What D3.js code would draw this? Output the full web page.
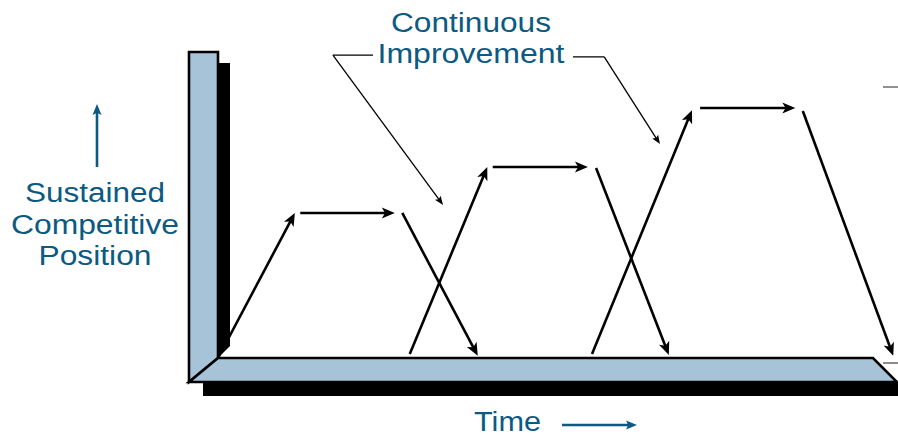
<!DOCTYPE html>
<html><head><meta charset="utf-8">
<script src="https://cdn.jsdelivr.net/npm/d3@7/dist/d3.min.js"></script>
<style>html,body{margin:0;padding:0;background:#fff;}svg{display:block;}</style>
</head><body>
<svg id="c" width="898" height="437"></svg>
<script>
// Data (time units 0-100, position units 0-100)
const rises   = [ {t1:0,   v1:0,   t2:11.3, v2:47.4},
                  {t1:28.2, v1:1.3, t2:39.6, v2:62.4},
                  {t1:55.0, v1:1.3, t2:69.7, v2:81.0} ];
const plateaus= [ {t1:12.1, t2:26.0, v:47.4},
                  {t1:40.4, t2:54.4, v:62.4},
                  {t1:70.9, t2:84.9, v:81.7} ];
const drops   = [ {t1:27.1, v1:47.4, t2:38.2, v2:0.7},
                  {t1:55.6, v1:62.1, t2:66.3, v2:1.0},
                  {t1:86.0, v1:80.7, t2:99.3, v2:0.7} ];
const leaders = [ [[22.8,99.0],[16.9,99.0],[33.1,50.0]],
                  [[52.2,98.4],[56.8,98.4],[65.0,69.9]] ];
const titleLines = ["Continuous","Improvement"];
const yLabelLines = ["Sustained","Competitive","Position"];
const xLabel = "Time";

const svg = d3.select("#c");
const x = d3.scaleLinear().domain([0,100]).range([218,898]);
const y = d3.scaleLinear().domain([0,100]).range([358,52]);

const blue = "#a7c3d8", ink = "#0b5a82";

// Frame: shadows
const x0 = x(0), y0 = y(0), yTop = y(100);
svg.append("rect").attr("x",203).attr("y",382).attr("width",898-203).attr("height",14).attr("fill","#000");
svg.append("polygon").attr("points",[[x0,yTop+11],[x0+12,yTop+11],[x0+12,y0-12],[x0,y0]].map(p=>p.join(",")).join(" ")).attr("fill","#000");
// wall
svg.append("polygon").attr("points",[[x0-29,yTop],[x0,yTop],[x0,y0],[x0-29,y0+24]].map(p=>p.join(",")).join(" "))
  .attr("fill",blue).attr("stroke","#000").attr("stroke-width",2.6).attr("stroke-linejoin","miter");
// floor
svg.append("polygon").attr("points",[[x0-29,y0+24],[x0,y0],[873,y0],[897,y0+24]].map(p=>p.join(",")).join(" "))
  .attr("fill",blue).attr("stroke","#000").attr("stroke-width",2.6).attr("stroke-linejoin","miter");

// arrow helper
function arrow(g, x1,y1,x2,y2, opt){
  const len=opt.len, hw=opt.hw;
  const dx=x2-x1, dy=y2-y1, L=Math.hypot(dx,dy), ux=dx/L, uy=dy/L;
  const bx=x2-ux*len, by=y2-uy*len;
  g.append("line").attr("x1",x1).attr("y1",y1).attr("x2",x2-ux*len*0.6).attr("y2",y2-uy*len*0.6)
    .attr("stroke",opt.color).attr("stroke-width",opt.w);
  const back = opt.notch||0;
  g.append("polygon").attr("points",[[x2,y2],[bx-uy*hw,by+ux*hw],[x2-ux*len*(1-back), y2-uy*len*(1-back)],[bx+uy*hw,by-ux*hw]].map(p=>p.join(",")).join(" "))
    .attr("fill",opt.color);
}
const g = svg.append("g");
const big = {len:13, hw:5.5, w:2.6, color:"#000", notch:0.25};
rises.forEach(d=>arrow(g,x(d.t1),y(d.v1),x(d.t2),y(d.v2),big));
plateaus.forEach(d=>arrow(g,x(d.t1),y(d.v),x(d.t2),y(d.v),big));
drops.forEach(d=>arrow(g,x(d.t1),y(d.v1),x(d.t2),y(d.v2),big));

// leaders
leaders.forEach(pts=>{
  const p = pts.map(q=>[x(q[0]),y(q[1])]);
  g.append("polyline").attr("points",p.slice(0,2).map(q=>q.join(",")).join(" ")).attr("fill","none").attr("stroke","#000").attr("stroke-width",1.3);
  arrow(g,p[1][0],p[1][1],p[2][0],p[2][1],{len:9,hw:3.5,w:1.3,color:"#000",notch:0.2});
});
// small cut-off marks at right edge
svg.append("line").attr("x1",883).attr("x2",898).attr("y1",87).attr("y2",87).attr("stroke","#555").attr("stroke-width",1.3);
svg.append("line").attr("x1",883).attr("x2",898).attr("y1",363).attr("y2",363).attr("stroke","#666").attr("stroke-width",1.5);

// texts
const font = "'Liberation Sans', Arial, sans-serif";
const tw = {"Continuous":160,"Improvement":187,"Sustained":140,"Competitive":168,"Position":113,"Time":67};
titleLines.forEach((s,i)=>{
  svg.append("text").attr("x",471-tw[s]/2).attr("y",32+i*31).attr("font-family",font).attr("font-size",27)
    .attr("fill",ink).attr("textLength",tw[s]).attr("lengthAdjust","spacingAndGlyphs").text(s);
});
yLabelLines.forEach((s,i)=>{
  svg.append("text").attr("x",95-tw[s]/2).attr("y",202+i*31.5).attr("font-family",font).attr("font-size",27)
    .attr("fill",ink).attr("textLength",tw[s]).attr("lengthAdjust","spacingAndGlyphs").text(s);
});
svg.append("text").attr("x",474).attr("y",431).attr("font-family",font).attr("font-size",27)
  .attr("fill",ink).attr("textLength",tw.Time).attr("lengthAdjust","spacingAndGlyphs").text(xLabel);

arrow(svg,97,167,97,104,{len:11,hw:4.5,w:2.6,color:ink,notch:0.2});
arrow(svg,562,425,637,425,{len:11,hw:4.5,w:2.6,color:ink,notch:0.2});
</script>
</body></html>
